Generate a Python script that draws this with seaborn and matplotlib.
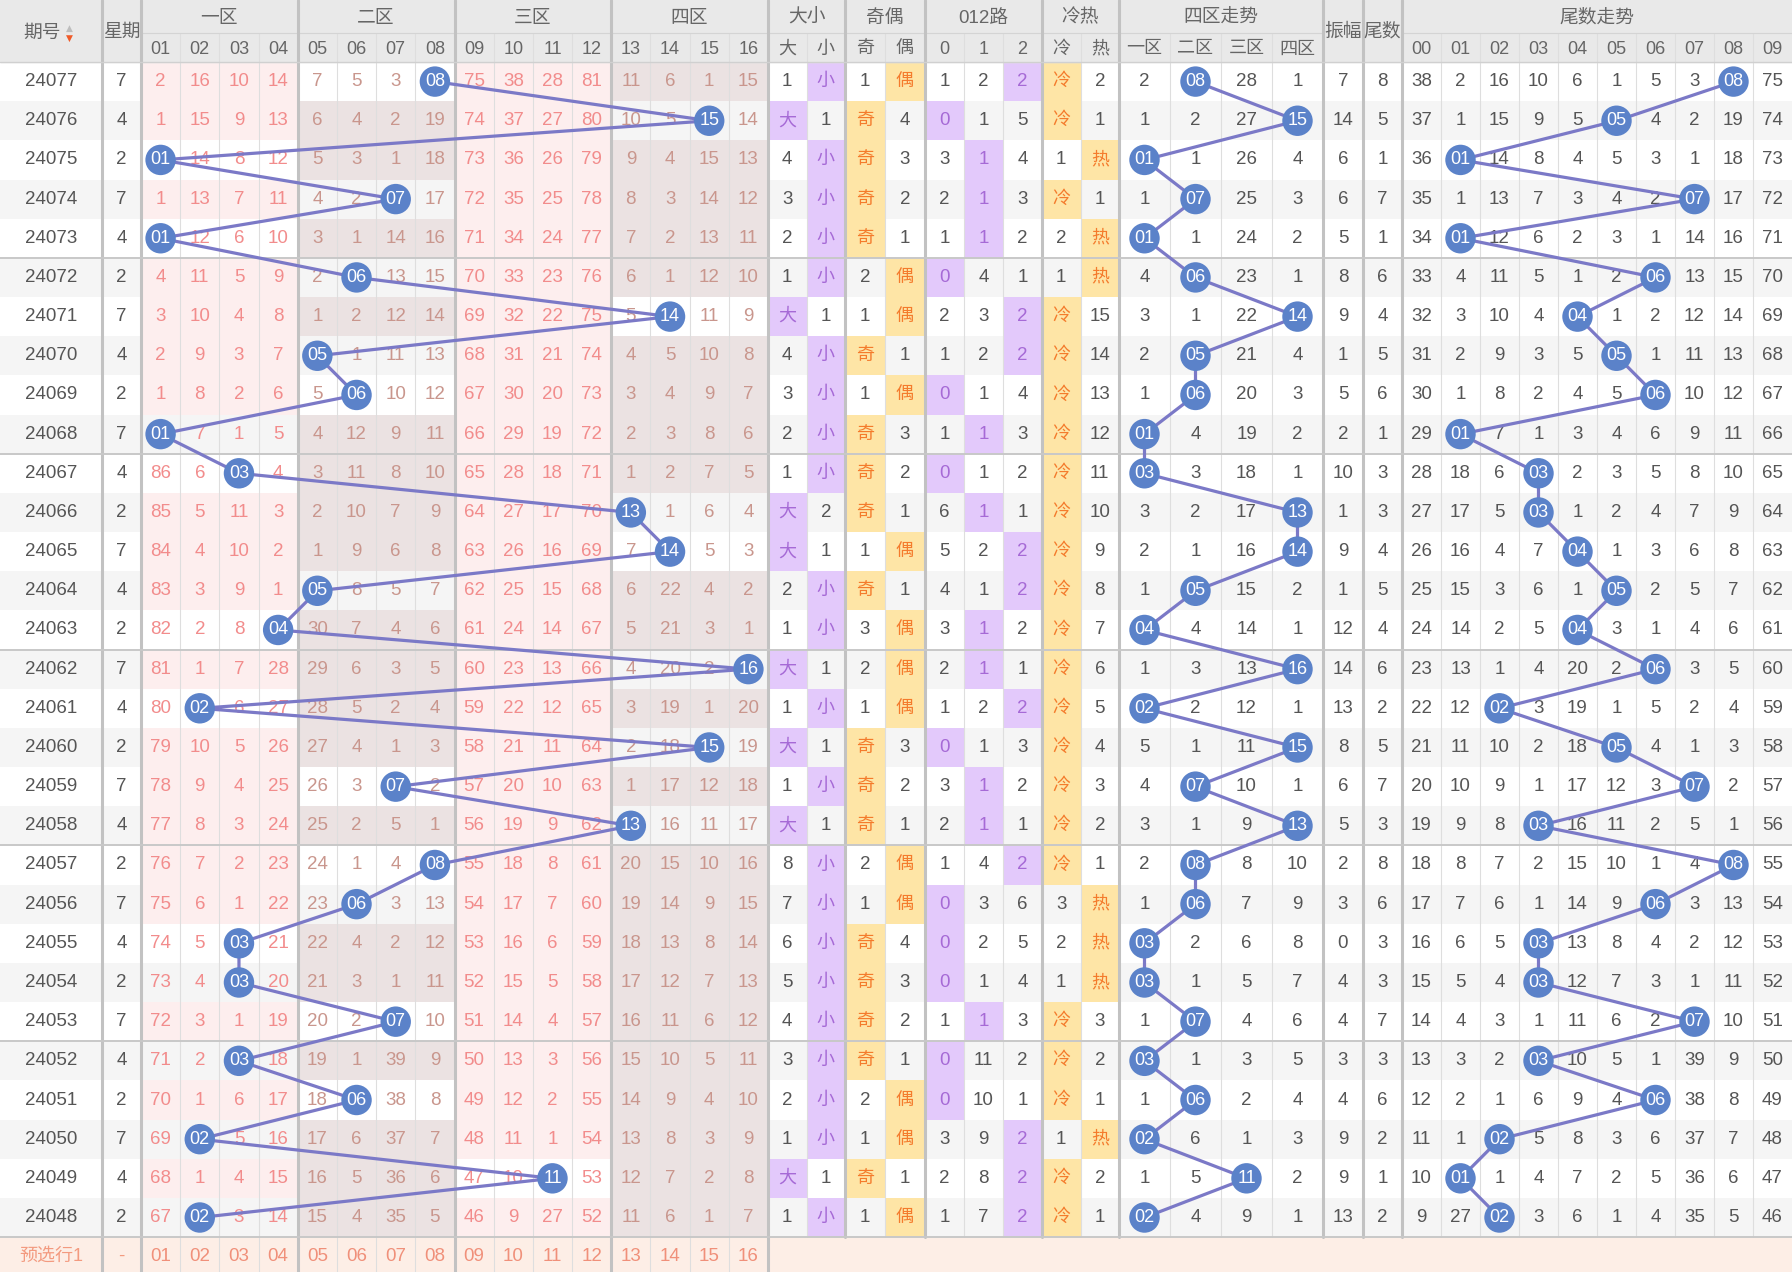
import numpy as np
import pandas as pd
import matplotlib.pyplot as plt
import seaborn as sns
from matplotlib.colors import ListedColormap

sns.set_style("white")
plt.rcParams['font.family'] = ['Liberation Sans', 'Noto Sans CJK SC', 'DejaVu Sans']

# ---------------- data ----------------
issues = ['24077', '24076', '24075', '24074', '24073', '24072', '24071', '24070', '24069', '24068',
          '24067', '24066', '24065', '24064', '24063', '24062', '24061', '24060', '24059', '24058',
          '24057', '24056', '24055', '24054', '24053', '24052', '24051', '24050', '24049', '24048']
weekday = [7, 4, 2, 7, 4, 2, 7, 4, 2, 7, 4, 2, 7, 4, 2, 7, 4, 2, 7, 4, 2, 7, 4, 2, 7, 4, 2, 7, 4, 2]
balls = [8, 15, 1, 7, 1, 6, 14, 5, 6, 1, 3, 13, 14, 5, 4, 16, 2, 15, 7, 13,
         8, 6, 3, 3, 7, 3, 6, 2, 11, 2]

# omission counts for numbers 01-16 (0 = drawn number)
miss_num = [
    [2, 16, 10, 14, 7, 5, 3, 0, 75, 38, 28, 81, 11, 6, 1, 15],
    [1, 15, 9, 13, 6, 4, 2, 19, 74, 37, 27, 80, 10, 5, 0, 14],
    [0, 14, 8, 12, 5, 3, 1, 18, 73, 36, 26, 79, 9, 4, 15, 13],
    [1, 13, 7, 11, 4, 2, 0, 17, 72, 35, 25, 78, 8, 3, 14, 12],
    [0, 12, 6, 10, 3, 1, 14, 16, 71, 34, 24, 77, 7, 2, 13, 11],
    [4, 11, 5, 9, 2, 0, 13, 15, 70, 33, 23, 76, 6, 1, 12, 10],
    [3, 10, 4, 8, 1, 2, 12, 14, 69, 32, 22, 75, 5, 0, 11, 9],
    [2, 9, 3, 7, 0, 1, 11, 13, 68, 31, 21, 74, 4, 5, 10, 8],
    [1, 8, 2, 6, 5, 0, 10, 12, 67, 30, 20, 73, 3, 4, 9, 7],
    [0, 7, 1, 5, 4, 12, 9, 11, 66, 29, 19, 72, 2, 3, 8, 6],
    [86, 6, 0, 4, 3, 11, 8, 10, 65, 28, 18, 71, 1, 2, 7, 5],
    [85, 5, 11, 3, 2, 10, 7, 9, 64, 27, 17, 70, 0, 1, 6, 4],
    [84, 4, 10, 2, 1, 9, 6, 8, 63, 26, 16, 69, 7, 0, 5, 3],
    [83, 3, 9, 1, 0, 8, 5, 7, 62, 25, 15, 68, 6, 22, 4, 2],
    [82, 2, 8, 0, 30, 7, 4, 6, 61, 24, 14, 67, 5, 21, 3, 1],
    [81, 1, 7, 28, 29, 6, 3, 5, 60, 23, 13, 66, 4, 20, 2, 0],
    [80, 0, 6, 27, 28, 5, 2, 4, 59, 22, 12, 65, 3, 19, 1, 20],
    [79, 10, 5, 26, 27, 4, 1, 3, 58, 21, 11, 64, 2, 18, 0, 19],
    [78, 9, 4, 25, 26, 3, 0, 2, 57, 20, 10, 63, 1, 17, 12, 18],
    [77, 8, 3, 24, 25, 2, 5, 1, 56, 19, 9, 62, 0, 16, 11, 17],
    [76, 7, 2, 23, 24, 1, 4, 0, 55, 18, 8, 61, 20, 15, 10, 16],
    [75, 6, 1, 22, 23, 0, 3, 13, 54, 17, 7, 60, 19, 14, 9, 15],
    [74, 5, 0, 21, 22, 4, 2, 12, 53, 16, 6, 59, 18, 13, 8, 14],
    [73, 4, 0, 20, 21, 3, 1, 11, 52, 15, 5, 58, 17, 12, 7, 13],
    [72, 3, 1, 19, 20, 2, 0, 10, 51, 14, 4, 57, 16, 11, 6, 12],
    [71, 2, 0, 18, 19, 1, 39, 9, 50, 13, 3, 56, 15, 10, 5, 11],
    [70, 1, 6, 17, 18, 0, 38, 8, 49, 12, 2, 55, 14, 9, 4, 10],
    [69, 0, 5, 16, 17, 6, 37, 7, 48, 11, 1, 54, 13, 8, 3, 9],
    [68, 1, 4, 15, 16, 5, 36, 6, 47, 10, 0, 53, 12, 7, 2, 8],
    [67, 0, 3, 14, 15, 4, 35, 5, 46, 9, 27, 52, 11, 6, 1, 7],
]

size_big = ['1', '大', '4', '3', '2', '1', '大', '4', '3', '2', '1', '大', '大', '2', '1',
            '大', '1', '大', '1', '大', '8', '7', '6', '5', '4', '3', '2', '1', '大', '1']
size_small = ['小', '1', '小', '小', '小', '小', '1', '小', '小', '小', '小', '2', '1', '小', '小',
              '1', '小', '1', '小', '1', '小', '小', '小', '小', '小', '小', '小', '小', '1', '小']
odd_col = ['1', '奇', '奇', '奇', '奇', '2', '1', '奇', '1', '奇', '奇', '奇', '1', '奇', '3',
           '2', '1', '奇', '奇', '奇', '2', '1', '奇', '奇', '奇', '奇', '2', '1', '奇', '1']
even_col = ['偶', '4', '3', '2', '1', '偶', '偶', '1', '偶', '3', '2', '1', '偶', '1', '偶',
            '偶', '偶', '3', '2', '1', '偶', '偶', '4', '3', '2', '1', '偶', '偶', '1', '偶']

route_vals = [[1, 2, 2], [0, 1, 5], [3, 1, 4], [2, 1, 3], [1, 1, 2], [0, 4, 1], [2, 3, 2], [1, 2, 2],
              [0, 1, 4], [1, 1, 3], [0, 1, 2], [6, 1, 1], [5, 2, 2], [4, 1, 2], [3, 1, 2], [2, 1, 1],
              [1, 2, 2], [0, 1, 3], [3, 1, 2], [2, 1, 1], [1, 4, 2], [0, 3, 6], [0, 2, 5], [0, 1, 4],
              [1, 1, 3], [0, 11, 2], [0, 10, 1], [3, 9, 2], [2, 8, 2], [1, 7, 2]]
route_hit = [2, 0, 1, 1, 1, 0, 2, 2, 0, 1, 0, 1, 2, 2, 1, 1, 2, 0, 1, 1,
             2, 0, 0, 0, 1, 0, 0, 2, 2, 2]

cold_col = ['冷', '冷', '1', '冷', '2', '1', '冷', '冷', '冷', '冷', '冷', '冷', '冷', '冷', '冷',
            '冷', '冷', '冷', '冷', '冷', '冷', '3', '2', '1', '冷', '冷', '冷', '1', '冷', '冷']
hot_col = ['2', '1', '热', '1', '热', '热', '15', '14', '13', '12', '11', '10', '9', '8', '7',
           '6', '5', '4', '3', '2', '1', '热', '热', '热', '3', '2', '1', '热', '2', '1']

# 四区走势 (0 = zone of drawn number)
zone_miss = [[2, 0, 28, 1], [1, 2, 27, 0], [0, 1, 26, 4], [1, 0, 25, 3], [0, 1, 24, 2],
             [4, 0, 23, 1], [3, 1, 22, 0], [2, 0, 21, 4], [1, 0, 20, 3], [0, 4, 19, 2],
             [0, 3, 18, 1], [3, 2, 17, 0], [2, 1, 16, 0], [1, 0, 15, 2], [0, 4, 14, 1],
             [1, 3, 13, 0], [0, 2, 12, 1], [5, 1, 11, 0], [4, 0, 10, 1], [3, 1, 9, 0],
             [2, 0, 8, 10], [1, 0, 7, 9], [0, 2, 6, 8], [0, 1, 5, 7], [1, 0, 4, 6],
             [0, 1, 3, 5], [1, 0, 2, 4], [0, 6, 1, 3], [1, 5, 0, 2], [0, 4, 9, 1]]

amplitude = [7, 14, 6, 6, 5, 8, 9, 1, 5, 2, 10, 1, 9, 1, 12, 14, 13, 8, 6, 5,
             2, 3, 0, 4, 4, 3, 4, 9, 9, 13]
tail = [8, 5, 1, 7, 1, 6, 4, 5, 6, 1, 3, 3, 4, 5, 4, 6, 2, 5, 7, 3,
        8, 6, 3, 3, 7, 3, 6, 2, 1, 2]

# 尾数走势 00-09 (0 = tail of drawn number)
tail_miss = [
    [38, 2, 16, 10, 6, 1, 5, 3, 0, 75], [37, 1, 15, 9, 5, 0, 4, 2, 19, 74],
    [36, 0, 14, 8, 4, 5, 3, 1, 18, 73], [35, 1, 13, 7, 3, 4, 2, 0, 17, 72],
    [34, 0, 12, 6, 2, 3, 1, 14, 16, 71], [33, 4, 11, 5, 1, 2, 0, 13, 15, 70],
    [32, 3, 10, 4, 0, 1, 2, 12, 14, 69], [31, 2, 9, 3, 5, 0, 1, 11, 13, 68],
    [30, 1, 8, 2, 4, 5, 0, 10, 12, 67], [29, 0, 7, 1, 3, 4, 6, 9, 11, 66],
    [28, 18, 6, 0, 2, 3, 5, 8, 10, 65], [27, 17, 5, 0, 1, 2, 4, 7, 9, 64],
    [26, 16, 4, 7, 0, 1, 3, 6, 8, 63], [25, 15, 3, 6, 1, 0, 2, 5, 7, 62],
    [24, 14, 2, 5, 0, 3, 1, 4, 6, 61], [23, 13, 1, 4, 20, 2, 0, 3, 5, 60],
    [22, 12, 0, 3, 19, 1, 5, 2, 4, 59], [21, 11, 10, 2, 18, 0, 4, 1, 3, 58],
    [20, 10, 9, 1, 17, 12, 3, 0, 2, 57], [19, 9, 8, 0, 16, 11, 2, 5, 1, 56],
    [18, 8, 7, 2, 15, 10, 1, 4, 0, 55], [17, 7, 6, 1, 14, 9, 0, 3, 13, 54],
    [16, 6, 5, 0, 13, 8, 4, 2, 12, 53], [15, 5, 4, 0, 12, 7, 3, 1, 11, 52],
    [14, 4, 3, 1, 11, 6, 2, 0, 10, 51], [13, 3, 2, 0, 10, 5, 1, 39, 9, 50],
    [12, 2, 1, 6, 9, 4, 0, 38, 8, 49], [11, 1, 0, 5, 8, 3, 6, 37, 7, 48],
    [10, 0, 1, 4, 7, 2, 5, 36, 6, 47], [9, 27, 0, 3, 6, 1, 4, 35, 5, 46],
]

group_titles = ['一区', '二区', '三区', '四区', '大小', '奇偶', '012路', '冷热', '四区走势', '尾数走势']
num_labels = ['%02d' % i for i in range(1, 17)]
tail_labels = ['%02d' % i for i in range(10)]
zone_labels = ['一区', '二区', '三区', '四区']

# ---------------- layout ----------------
segments = [(0, 102, 1), (102, 141, 1), (141, 768, 16), (768, 845, 2), (845, 925, 2),
            (925, 1042, 3), (1042, 1119, 2), (1119, 1323, 4), (1323, 1363, 1),
            (1363, 1402, 1), (1402, 1792, 10)]
edges = [0.0]
for a, b, n in segments:
    edges += list(np.linspace(a, b, n + 1)[1:])
edges = np.array(edges)
xc = (edges[:-1] + edges[1:]) / 2
ncol = len(xc)
thick = [1, 2, 6, 10, 14, 18, 20, 22, 25, 27, 31, 32, 33]

H_MID, D_TOP, ROW_H = 33, 62, 39.17
nrow = len(issues)
yedges = D_TOP + ROW_H * np.arange(nrow + 1)
yc = (yedges[:-1] + yedges[1:]) / 2
D_BOT = yedges[-1]

C_TXT = '#555555'
C_HEAD = '#666666'
C_PINK_T, C_BROWN_T = '#f28c8c', '#c9968d'
C_PURP_T, C_ORNG_T = '#a66ad6', '#f47b2c'
C_BALL, C_LINE = '#5b82c9', '#7b79c7'
C_GRID, C_SEP = '#dedede', '#c2c2c2'

fig = plt.figure(figsize=(17.92, 12.72), dpi=100)
ax = fig.add_axes([0, 0, 1, 1])

# background codes: 0 white, 1 grey row, 2 pink zone, 3 brown zone, 4 purple hit, 5 yellow hit
codes = np.zeros((nrow, ncol))
for r in range(nrow):
    codes[r, :] = r % 2
    bz = (balls[r] - 1) // 4
    for k in range(16):
        z = k // 4
        if z != bz:
            codes[r, 2 + k] = 2 if z in (0, 2) else 3
    if size_big[r] == '大':
        codes[r, 18] = 4
    if size_small[r] == '小':
        codes[r, 19] = 4
    if odd_col[r] == '奇':
        codes[r, 20] = 5
    if even_col[r] == '偶':
        codes[r, 21] = 5
    codes[r, 22 + route_hit[r]] = 4
    if cold_col[r] == '冷':
        codes[r, 25] = 5
    if hot_col[r] == '热':
        codes[r, 26] = 5
cmap = ListedColormap(['#ffffff', '#f5f5f5', '#fdeeee', '#ebe2e2', '#e3c9fb', '#fee5a6'])
ax.pcolormesh(edges, yedges, codes, cmap=cmap, vmin=-0.5, vmax=5.5, zorder=0)

# header and bottom row backgrounds
ax.add_patch(plt.Rectangle((0, 0), 1792, D_TOP, color='#e9e9e9', zorder=0))
ax.add_patch(plt.Rectangle((0, D_BOT), 1792, 1272 - D_BOT, color='#fdeee6', zorder=0))

# grid lines
for i, x in enumerate(edges[1:-1], start=1):
    bot = 1272 if i <= 18 else D_BOT
    if i in thick:
        ax.plot([x, x], [0, bot], color=C_SEP, lw=2.2, zorder=1.2)
    else:
        ax.plot([x, x], [H_MID, bot], color=C_GRID, lw=0.8, zorder=1.1)
ax.plot([edges[2], edges[31]], [H_MID, H_MID], color='#d4d4d4', lw=0.8, zorder=1.1)
ax.plot([edges[33], 1792], [H_MID, H_MID], color='#d4d4d4', lw=0.8, zorder=1.1)
ax.plot([0, 1792], [D_TOP, D_TOP], color='#d0d0d0', lw=1.0, zorder=1.2)
for r in range(5, nrow + 1, 5):
    ax.plot([0, 1792], [yedges[r], yedges[r]], color='#c8c8c8', lw=1.4, zorder=1.2)

# header text
HFS = 13.5
ax.text(42, 33, '期号', ha='center', va='center', fontsize=HFS, color=C_HEAD)
ax.text(69, 28, '▲', ha='center', va='center', fontsize=6.5, color='#bdbdbd', family='DejaVu Sans')
ax.text(69, 38, '▼', ha='center', va='center', fontsize=6.5, color='#f05a28', family='DejaVu Sans')
for c, t in [(1, '星期'), (31, '振幅'), (32, '尾数')]:
    ax.text(xc[c], 32, t, ha='center', va='center', fontsize=HFS, color=C_HEAD)
spans = [(2, 6), (6, 10), (10, 14), (14, 18), (18, 20), (20, 22), (22, 25), (25, 27), (27, 31), (33, 43)]
for (a, b), t in zip(spans, group_titles):
    ax.text((edges[a] + edges[b]) / 2, 18, t, ha='center', va='center', fontsize=HFS, color=C_HEAD)
sub = num_labels + ['大', '小', '奇', '偶', '0', '1', '2', '冷', '热'] + zone_labels
for k, t in enumerate(sub):
    ax.text(xc[2 + k], 49, t, ha='center', va='center', fontsize=13, color=C_HEAD)
for k, t in enumerate(tail_labels):
    ax.text(xc[33 + k], 49, t, ha='center', va='center', fontsize=13, color=C_HEAD)

# data text
FS = 13.5


def put(c, r, s, col, fs=FS):
    ax.text(xc[c], yc[r], s, ha='center', va='center', fontsize=fs, color=col, zorder=2)


for r in range(nrow):
    put(0, r, issues[r], C_TXT)
    put(1, r, str(weekday[r]), C_TXT)
    for k in range(16):
        if miss_num[r][k]:
            put(2 + k, r, str(miss_num[r][k]), C_PINK_T if (k // 4) in (0, 2) else C_BROWN_T)
    for c, v in [(18, size_big[r]), (19, size_small[r])]:
        put(c, r, v, C_PURP_T if v in ('大', '小') else C_TXT, 13 if v in ('大', '小') else FS)
    for c, v in [(20, odd_col[r]), (21, even_col[r]), (25, cold_col[r]), (26, hot_col[r])]:
        hit = v in ('奇', '偶', '冷', '热')
        put(c, r, v, C_ORNG_T if hit else C_TXT, 13 if hit else FS)
    for k in range(3):
        put(22 + k, r, str(route_vals[r][k]), C_PURP_T if route_hit[r] == k else C_TXT)
    for k in range(4):
        if zone_miss[r][k]:
            put(27 + k, r, str(zone_miss[r][k]), C_TXT)
    put(31, r, str(amplitude[r]), C_TXT)
    put(32, r, str(tail[r]), C_TXT)
    for k in range(10):
        if tail_miss[r][k]:
            put(33 + k, r, str(tail_miss[r][k]), C_TXT)

# bottom preview row
yb = D_BOT + ROW_H / 2
ax.text(xc[0], yb, '预选行1', ha='center', va='center', fontsize=13, color='#f39a7f')
ax.text(xc[1], yb, '-', ha='center', va='center', fontsize=FS, color='#f39a7f')
for k, t in enumerate(num_labels):
    ax.text(xc[2 + k], yb, t, ha='center', va='center', fontsize=FS, color='#f0907a')

# trend balls and lines
pts = []
for r in range(nrow):
    b = balls[r]
    pts.append(dict(x=xc[1 + b], y=yc[r], label='%02d' % b, grp='num'))
    pts.append(dict(x=xc[27 + (b - 1) // 4], y=yc[r], label='%02d' % b, grp='zone'))
    pts.append(dict(x=xc[33 + tail[r]], y=yc[r], label='%02d' % tail[r], grp='tail'))
df = pd.DataFrame(pts)

for g, d in df.groupby('grp'):
    sns.lineplot(x=d['x'].values, y=d['y'].values, sort=False, estimator=None,
                 color=C_LINE, linewidth=2.3, ax=ax, zorder=3)
sns.scatterplot(data=df, x='x', y='y', s=480, color=C_BALL, edgecolor='none',
                linewidth=0, ax=ax, zorder=4, legend=False)
for _, p in df.iterrows():
    ax.text(p['x'], p['y'], p['label'], ha='center', va='center', fontsize=13,
            color='white', zorder=5)

ax.set_xlim(0, 1792)
ax.set_ylim(1272, 0)
ax.axis('off')
fig.savefig('out.png', dpi=100)
